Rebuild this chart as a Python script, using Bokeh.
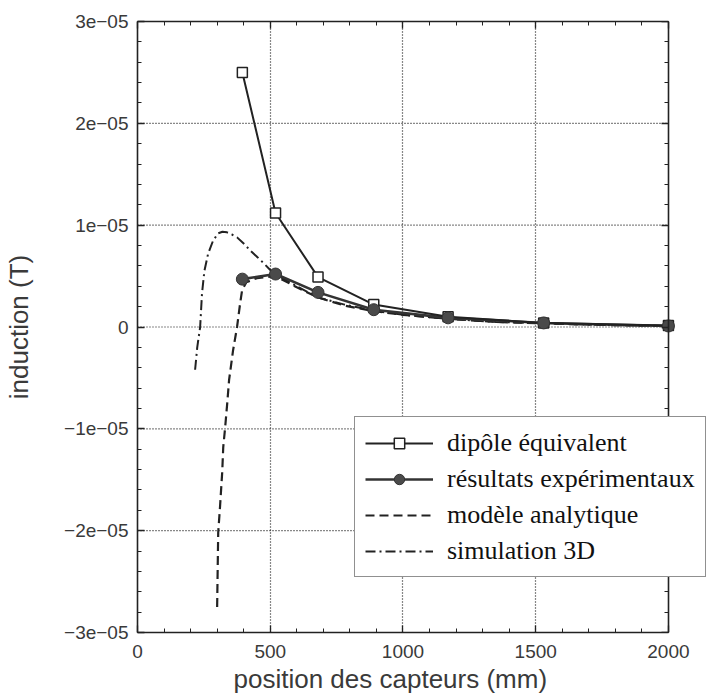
import numpy as np
from bokeh.plotting import figure
from bokeh.models import (Range1d, FixedTicker, LinearAxis, Legend, LegendItem,
                          CustomJSTickFormatter, Title)
from bokeh.embed import file_html
from bokeh.resources import INLINE

# ---------------- data ----------------
sensor_x = [395, 520, 680, 890, 1170, 1530, 2000]
dipole_y = [2.50e-5, 1.12e-5, 0.49e-5, 0.22e-5, 0.10e-5, 0.04e-5, 0.015e-5]
exp_y = [0.47e-5, 0.52e-5, 0.34e-5, 0.17e-5, 0.09e-5, 0.04e-5, 0.01e-5]

analytic_x = [300, 304, 311, 319, 323, 330, 338, 345, 360, 375, 387, 394, 410,
              450, 520, 600, 680, 780, 890, 1000, 1170, 1350, 1530, 1750, 2000]
analytic_y = [-2.75e-5, -2.02e-5, -1.76e-5, -1.43e-5, -1.18e-5, -0.99e-5,
              -0.75e-5, -0.52e-5, -0.23e-5, 0.0, 0.24e-5, 0.36e-5, 0.44e-5,
              0.48e-5, 0.50e-5, 0.39e-5, 0.29e-5, 0.21e-5, 0.155e-5, 0.12e-5,
              0.08e-5, 0.05e-5, 0.035e-5, 0.02e-5, 0.01e-5]

sim_x = [217, 225, 236, 243, 252, 266, 285, 304, 320, 337, 355, 375, 400, 425,
         450, 474, 511, 600, 680, 780, 890, 1000, 1170, 1350, 1530, 1750, 2000]
sim_y = [-0.42e-5, -0.20e-5, 0.0, 0.33e-5, 0.55e-5, 0.72e-5, 0.85e-5, 0.92e-5,
         0.935e-5, 0.93e-5, 0.91e-5, 0.88e-5, 0.82e-5, 0.75e-5, 0.69e-5,
         0.63e-5, 0.53e-5, 0.40e-5, 0.29e-5, 0.22e-5, 0.16e-5, 0.12e-5,
         0.08e-5, 0.05e-5, 0.035e-5, 0.02e-5, 0.01e-5]

x_ticks = [0, 500, 1000, 1500, 2000]
y_ticks = [-3e-5, -2e-5, -1e-5, 0.0, 1e-5, 2e-5, 3e-5]

x_label = "position des capteurs (mm)"
y_label = "induction (T)"
labels = ["dipôle équivalent", "résultats expérimentaux",
          "modèle analytique", "simulation 3D"]

# ---------------- figure ----------------
INK = "#222222"
TXT = "#3a3a3a"
X0, X1 = x_ticks[0], x_ticks[-1]
Y0, Y1 = y_ticks[0], y_ticks[-1]
# frame extends a little beyond x=2000 so the legend box may stick out of
# the plotting box, as in the original figure
X_EXT = X1 + (X1 - X0) * 39.0 / 530.0

p = figure(width=711, height=697, output_backend="svg", toolbar_location=None,
           x_range=Range1d(X0, X_EXT), y_range=Range1d(Y0, Y1),
           min_border_left=137, min_border_right=4, min_border_top=21,
           min_border_bottom=65)
p.background_fill_color = "white"
p.border_fill_color = "white"
p.outline_line_color = None

x_minor = list(np.arange(0, 2001, 100))
y_minor = list(np.arange(-30, 31, 2) * 1e-6)
xt = FixedTicker(ticks=x_ticks, minor_ticks=x_minor)
yt = FixedTicker(ticks=y_ticks, minor_ticks=y_minor)

fmt_y = CustomJSTickFormatter(code="""
if (Math.abs(tick) < 1e-12) { return '0'; }
var s = tick.toExponential(0);
s = s.replace(/e([+-])(\\d)$/, function(m, sg, d) { return 'e' + sg + '0' + d; });
return s.split('-').join('\\u2212');
""")
fmt_blank = CustomJSTickFormatter(code="return '';")

def style_axis(ax, show_labels=True):
    ax.axis_line_color = INK
    ax.axis_line_width = 1.6
    ax.major_tick_line_color = INK
    ax.minor_tick_line_color = INK
    ax.major_tick_in = 7
    ax.major_tick_out = 0
    ax.minor_tick_in = 4
    ax.minor_tick_out = 0
    ax.major_tick_line_width = 1.3
    ax.minor_tick_line_width = 1.0
    if show_labels:
        ax.major_label_text_font = "Liberation Sans"
        ax.major_label_text_font_size = "19px"
        ax.major_label_text_color = TXT
        ax.axis_label_text_font = "Liberation Sans"
        ax.axis_label_text_font_size = "26px"
        ax.axis_label_text_font_style = "normal"
        ax.axis_label_text_color = TXT

p.xaxis.ticker = xt
p.yaxis.ticker = yt
p.yaxis.formatter = fmt_y
p.xaxis.bounds = (X0, X1)
p.yaxis.axis_label = y_label
style_axis(p.xaxis[0])
style_axis(p.yaxis[0])
p.xaxis.major_label_standoff = 12
p.yaxis.major_label_standoff = 9
p.yaxis.axis_label_standoff = 27

# x-axis title, placed under the plotting box as in the original
p.add_layout(Title(text=x_label, align="left", offset=96, standoff=2,
                   text_font="Liberation Sans", text_font_size="26px",
                   text_font_style="normal", text_color=TXT), "below")

top_ax = LinearAxis(ticker=xt, formatter=fmt_blank, major_label_standoff=0,
                    bounds=(X0, X1))
right_ax = LinearAxis(ticker=yt, formatter=fmt_blank, major_label_standoff=0,
                      fixed_location=X1)
style_axis(top_ax, False)
style_axis(right_ax, False)
p.add_layout(top_ax, "above")
p.add_layout(right_ax, "right")

# dotted grid, limited to the plotting box 0..2000
p.xgrid.ticker = FixedTicker(ticks=x_ticks[1:-1])
p.xgrid.grid_line_color = "#111111"
p.xgrid.grid_line_dash = "1 2"
p.xgrid.grid_line_width = 1.2
p.ygrid.visible = False
gy = y_ticks[1:-1]
p.segment(x0=[X0] * len(gy), x1=[X1] * len(gy), y0=gy, y1=gy,
          line_color="#111111", line_dash="1 2", line_width=1.2, level="underlay")

# ---------------- series ----------------
r_an = p.line(analytic_x, analytic_y, line_color=INK, line_width=2.2,
              line_dash="9 5")
r_sim = p.line(sim_x, sim_y, line_color=INK, line_width=2.0,
               line_dash="10 4 2 4")
r_exp_l = p.line(sensor_x, exp_y, line_color="#333333", line_width=2.6)
r_dip_l = p.line(sensor_x, dipole_y, line_color=INK, line_width=2.0)
r_dip_m = p.scatter(sensor_x, dipole_y, marker="square", size=10,
                    line_color=INK, line_width=1.5, fill_color="white")
r_exp_m = p.scatter(sensor_x, exp_y, marker="circle", size=12,
                    line_color="#333333", fill_color="#4a4a4a")

legend = Legend(items=[
    LegendItem(label=labels[0], renderers=[r_dip_l, r_dip_m]),
    LegendItem(label=labels[1], renderers=[r_exp_l, r_exp_m]),
    LegendItem(label=labels[2], renderers=[r_an]),
    LegendItem(label=labels[3], renderers=[r_sim]),
], location=(217, 55))
legend.label_text_font = "Liberation Serif"
legend.label_text_font_size = "26px"
legend.label_text_color = "#111111"
legend.glyph_width = 68
legend.glyph_height = 26
legend.label_height = 31
legend.spacing = 5
legend.padding = 10
legend.margin = 0
legend.label_standoff = 14
legend.border_line_color = INK
legend.border_line_width = 1.5
legend.background_fill_color = "white"
legend.background_fill_alpha = 1.0
p.add_layout(legend)

open("out.html", "w").write(file_html(p, INLINE))
